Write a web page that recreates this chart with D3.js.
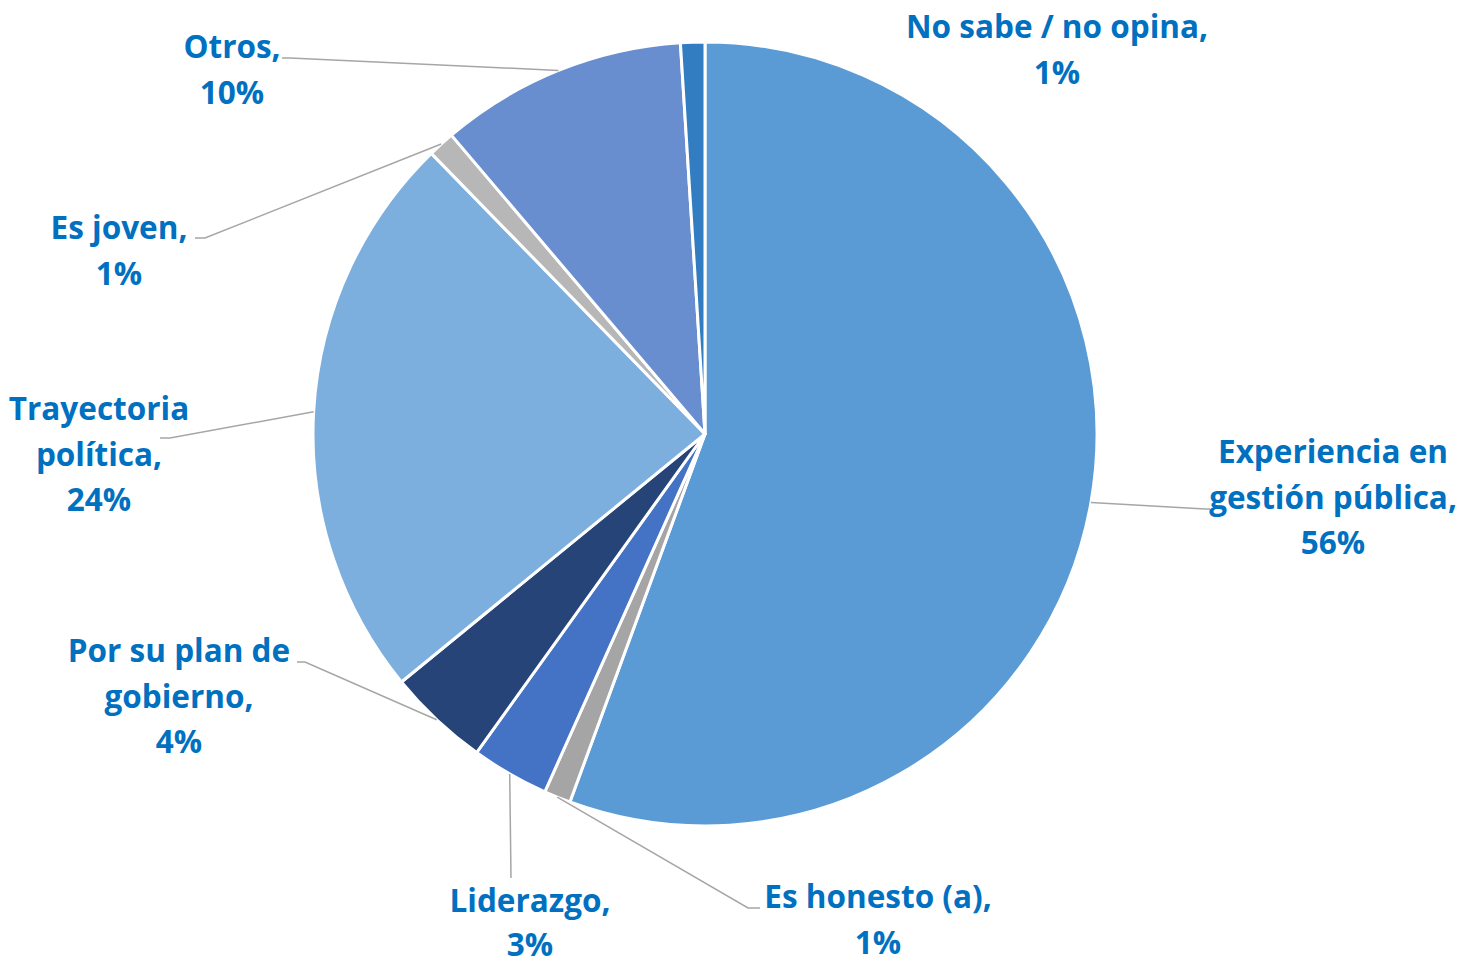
<!DOCTYPE html>
<html>
<head>
<meta charset="utf-8">
<script src="https://cdn.jsdelivr.net/npm/d3@7"></script>
<style>
  body { margin: 0; background: #fff; }
  svg text { font-family: "Open Sans", Lato, sans-serif; font-weight: bold; fill: #0070C0; }
</style>
</head>
<body>
<div id="chart"></div>
<script>
// data (percent of respondents)
const categories = ["Experiencia en gestión pública", "Es honesto (a)", "Liderazgo", "Por su plan de gobierno",
    "Trayectoria política", "Es joven", "Otros", "No sabe / no opina"];
const values = [55.6, 1.1, 3.2, 4.2, 23.6, 1.1, 10.2, 1.0];
const colors = ["#5B9BD5", "#A5A5A5", "#4472C4", "#264478", "#7CAFDD", "#B7B7B7", "#698ED0", "#327DC2"];

// how each label is broken into lines
const labelLines = [
    ["Experiencia en", "gestión pública,"],
    ["Es honesto (a),"],
    ["Liderazgo,"],
    ["Por su plan de", "gobierno,"],
    ["Trayectoria", "política,"],
    ["Es joven,"],
    ["Otros,"],
    ["No sabe / no opina,"]
];

// label layout: text centre x, first line y, leader elbow (null = no leader)
const labelLayout = [
    { x: 1333, y: 452, elbow: [1205, 509], end: [1210, 509] },
    { x: 878, y: 897, elbow: [748, 908], end: [760, 908] },
    { x: 530, y: 901, elbow: [511, 878], end: null },
    { x: 179, y: 651, elbow: [305, 662], end: [297, 662] },
    { x: 99, y: 409, elbow: [170, 438], end: [160, 438] },
    { x: 119, y: 228, elbow: [205, 238], end: [195, 238] },
    { x: 232, y: 47, elbow: [290, 58], end: [282, 58] },
    { x: 1057, y: 27, elbow: null, end: null }
];

const width = 1460;
const height = 964;
const cx = 705, cy = 434, radius = 392;
const lineH = 45.5;

const svg = d3.select("#chart").append("svg")
    .attr("width", width)
    .attr("height", height);

const pie = d3.pie().sort(null).value(d => d)(values);
const arc = d3.arc().innerRadius(0).outerRadius(radius);

const g = svg.append("g").attr("transform", `translate(${cx},${cy})`);

g.selectAll("path.slice")
    .data(pie)
    .enter().append("path")
    .attr("class", "slice")
    .attr("d", arc)
    .attr("fill", (d, i) => colors[i])
    .attr("stroke", "#fff")
    .attr("stroke-width", 3)
    .attr("stroke-linejoin", "round");

// leader lines
pie.forEach((d, i) => {
    const lay = labelLayout[i];
    if (!lay.elbow) return;
    const mid = (d.startAngle + d.endAngle) / 2;
    const start = [cx + radius * Math.sin(mid), cy - radius * Math.cos(mid)];
    const pts = [start, lay.elbow];
    if (lay.end) pts.push(lay.end);
    svg.append("path")
        .attr("d", d3.line()(pts))
        .attr("fill", "none")
        .attr("stroke", "#A6A6A6")
        .attr("stroke-width", 1.5);
});

// labels
pie.forEach((d, i) => {
    const lay = labelLayout[i];
    const lines = labelLines[i].concat([Math.round(values[i]) + "%"]);
    const lh = i === 2 ? 44 : lineH;
    const t = svg.append("text")
        .attr("text-anchor", "middle")
        .attr("font-size", 31.5);
    lines.forEach((s, k) => {
        t.append("tspan")
            .attr("x", lay.x)
            .attr("y", lay.y + k * lh)
            .attr("dy", "0.35em")
            .text(s);
    });
});
</script>
</body>
</html>
